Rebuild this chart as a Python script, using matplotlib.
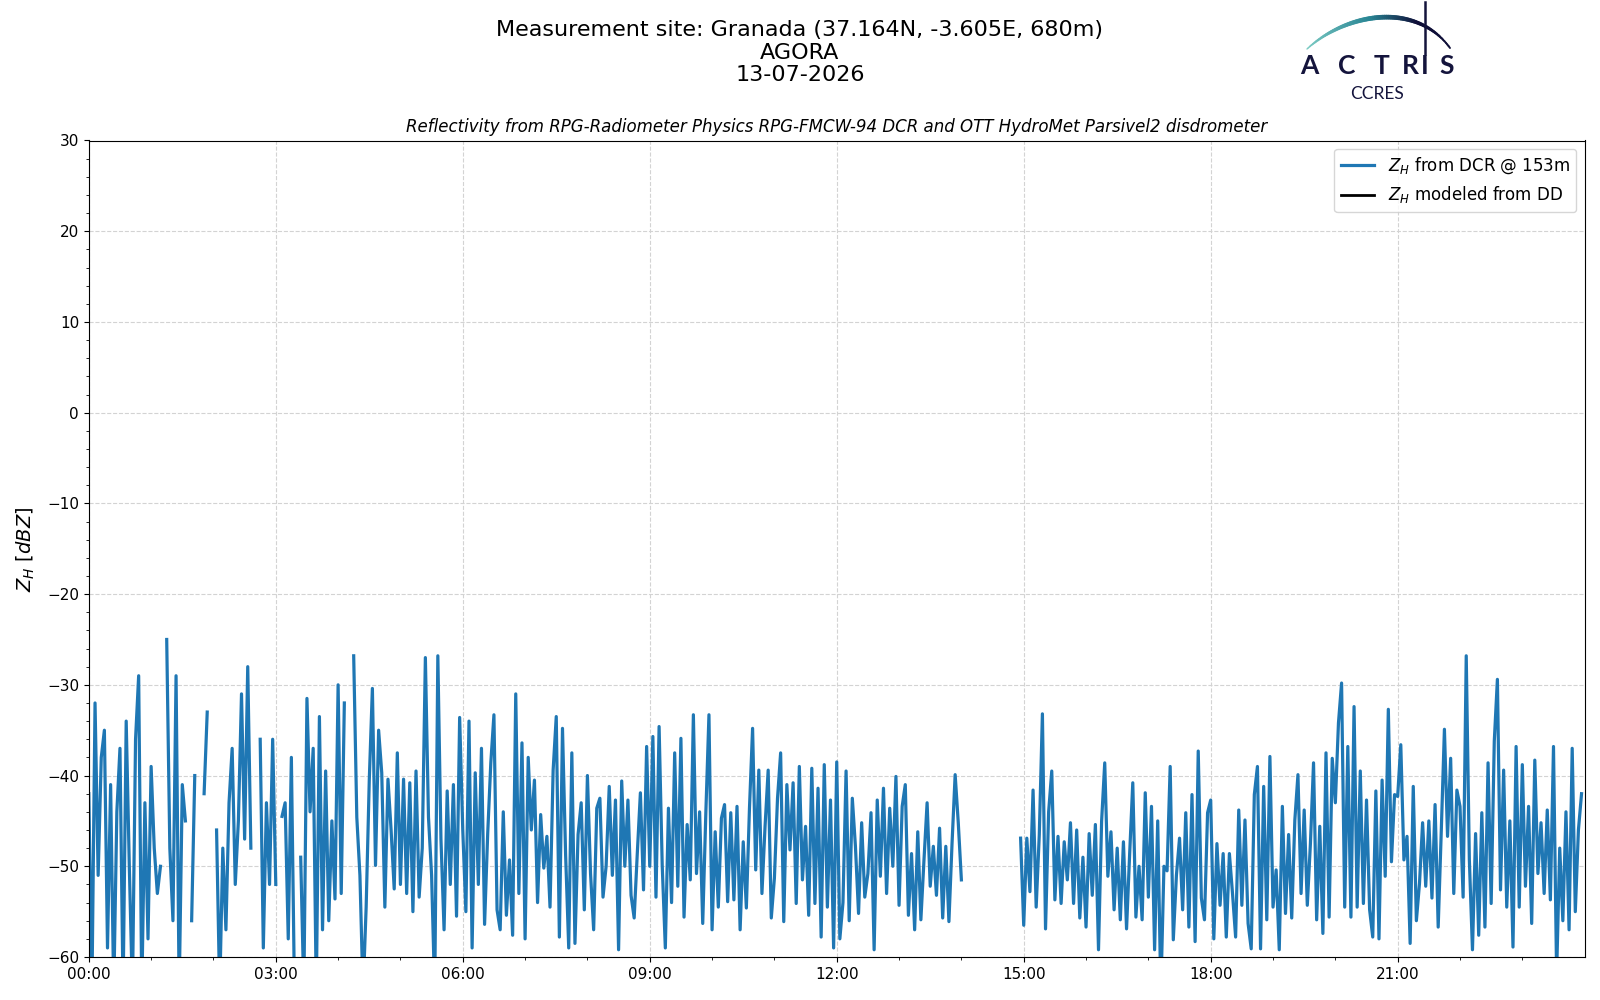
import numpy as np
import pandas as pd
import matplotlib
matplotlib.use('Agg')
import matplotlib.pyplot as plt
import matplotlib.dates as mdates
from matplotlib.ticker import MultipleLocator
from matplotlib.collections import LineCollection
from matplotlib.lines import Line2D

nan = np.nan

# Z_H from DCR @ 153m, one list per hour, 3 min steps (dBZ)
zh_00 = [-42, -64, -32, -51, -38, -35, -59, -41, -64, -44, -37, -64, -34, -50, -64, -36, -29, -64, -43, -58]
zh_01 = [-39, -48, -53, -50, nan, -25, -48, -56, -29, -64, -41, -45, nan, -56, -40, nan, nan, -42, -33, nan]
zh_02 = [nan, -46, -64, -48, -57, -43, -37, -52, -45, -31, -47, -28, -48, nan, nan, -36, -59, -43, -52, -36]
zh_03 = [-52, nan, -44.5, -43, -58, -38, -64, nan, -49, -64, -31.5, -44, -37, -64, -33.5, -57, -39.5, -56, -45, -53.6]
zh_04 = [-30, -53, -32, nan, nan, -26.8, -44.6, -51, -64, -54.5, -40.5, -30.4, -49.9, -35, -39.7, -54.5, -40.4, -46, -52.5, -37.5]
zh_05 = [-52, -40.4, -53, -40.8, -55, -39.5, -53.4, -48, -27, -44.6, -51, -64, -26.8, -47, -57, -41.7, -52, -41, -55.5, -33.6]
zh_06 = [-46, -55, -34, -59, -39.7, -52, -37, -56.4, -46.4, -38.6, -33.3, -54.8, -57, -44, -55.4, -49.3, -57.6, -31, -53, -36.4]
zh_07 = [-58, -38, -46, -40.5, -54, -44.3, -50.2, -46.7, -54.5, -39.4, -33.5, -57.8, -34.8, -48.7, -59, -37.5, -58.5, -46.5, -43, -54.8]
zh_08 = [-40, -50.8, -57, -43.6, -42.5, -53.4, -50, -41.2, -51, -42.7, -59.2, -40.6, -50, -42.7, -53.2, -55.7, -48.6, -41.9, -52.6, -36.8]
zh_09 = [-50, -35.7, -53.4, -34.6, -49.9, -59, -43.6, -54, -37.5, -52.2, -35.9, -55.6, -45.4, -51.5, -33.3, -50.8, -44, -56.3, -44.1, -33.3]
zh_10 = [-57, -46.2, -54.5, -44.7, -43.2, -53.9, -44.1, -53.7, -43.4, -57, -47.3, -54.6, -43.6, -34.8, -50.4, -39.4, -53, -45.6, -39.4, -55.7]
zh_11 = [-51.3, -42.5, -37.5, -56.1, -41, -48.2, -40.8, -54.1, -39, -51.5, -45.6, -55.4, -39.2, -54.1, -41.4, -57.8, -38.8, -54.5, -42.7, -59]
zh_12 = [-38.5, -58, -54, -39.5, -56, -42.5, -47.8, -55.2, -45.2, -53.4, -50.8, -44.1, -59.2, -42.7, -51.1, -41.4, -53, -43.6, -50, -40.1]
zh_13 = [-54.3, -43.4, -41, -55.4, -48.6, -57, -46.2, -55.9, -49.3, -43, -52.2, -47.8, -53.2, -45.8, -55.7, -47.8, -56.1, -47.5, -39.9, -45.2]
zh_14 = [-51.5, nan, nan, nan, nan, nan, nan, nan, nan, nan, nan, nan, nan, nan, nan, nan, nan, nan, nan, -46.9]
zh_15 = [-56.5, -46.9, -52.8, -41.6, -54.5, -46.5, -33.2, -56.9, -44, -39.5, -53.7, -46.7, -54.1, -47.3, -51.5, -45.2, -54.1, -46, -55.7, -49]
zh_16 = [-56.7, -46.4, -53.2, -45.4, -59.2, -45, -38.6, -51.1, -46.2, -54.8, -48, -55.9, -47.3, -56.9, -48.6, -40.8, -55.6, -50, -55.9, -41.9]
zh_17 = [-53.4, -43.4, -59.2, -45, -64, -50, -50.5, -39, -58.1, -51, -46.9, -54.8, -44.1, -56.7, -42.1, -58.3, -37.3, -53.5, -55.9, -44.1]
zh_18 = [-42.7, -58, -47.5, -54.3, -48.6, -57.8, -48.6, -53, -57.8, -43.8, -54.3, -44.9, -56.3, -59.1, -42.1, -39, -59.1, -41.2, -55.9, -37.9]
zh_19 = [-54.5, -50.4, -59.2, -43.4, -55.2, -46.5, -55.7, -44.9, -39.9, -53, -43.8, -54.3, -47.5, -38.6, -55.9, -45.6, -57.4, -37.5, -55.6, -38.1]
zh_20 = [-43, -34.2, -29.8, -54.5, -36.8, -55.6, -32.4, -54.5, -39.5, -54.1, -42.7, -54.8, -57.8, -41.7, -58, -40.5, -51.1, -32.7, -49.5, -42.1]
zh_21 = [-42.3, -36.6, -49.3, -46.7, -58.5, -41.2, -56, -51.9, -45.2, -52.2, -45, -53.5, -43.2, -56.7, -46, -34.9, -46.7, -38.1, -53, -41.6]
zh_22 = [-43.4, -53.4, -26.8, -49.3, -59.2, -46.4, -57.6, -44.1, -56.7, -38.6, -54.1, -36.2, -29.4, -52.6, -39.4, -54.5, -45, -58.9, -36.8, -54.5]
zh_23 = [-38.8, -52.2, -43.4, -56.3, -38.3, -50.8, -45.2, -53, -43.8, -53.7, -36.8, -62, -48, -56, -44, -57, -37, -55, -46, -42]

zh_dcr = np.concatenate([zh_00, zh_01, zh_02, zh_03, zh_04, zh_05, zh_06, zh_07,
                         zh_08, zh_09, zh_10, zh_11, zh_12, zh_13, zh_14, zh_15,
                         zh_16, zh_17, zh_18, zh_19, zh_20, zh_21, zh_22, zh_23])
times = pd.date_range('2026-07-13 00:00', periods=len(zh_dcr), freq='3min')

W, H = 1600, 1000


def px(x, y):
  # pixel position (from top left) -> figure fraction
  return x / W, 1 - y / H


fig = plt.figure(figsize=(16, 10), dpi=100)
ax = fig.add_axes([0.0555, 0.043, 0.9349, 0.8165])

ax.plot(times, zh_dcr, color='#1f77b4', lw=2.3, label=r'$Z_H$ from DCR @ 153m')
ax.plot([], [], color='k', lw=2, label=r'$Z_H$ modeled from DD')

ax.set_ylim(-60, 30)
ax.set_xlim(pd.Timestamp('2026-07-13 00:00'), pd.Timestamp('2026-07-13 23:59:59'))
ax.xaxis.set_major_locator(mdates.HourLocator(byhour=range(0, 24, 3)))
ax.xaxis.set_minor_locator(mdates.HourLocator())
ax.xaxis.set_major_formatter(mdates.DateFormatter('%H:%M'))
ax.yaxis.set_major_locator(MultipleLocator(10))
ax.yaxis.set_minor_locator(MultipleLocator(2))
ax.tick_params(labelsize=11)
ax.grid(True, which='major', ls='--', color='lightgrey', lw=0.8)
ax.set_ylabel(r'$Z_H\ [dBZ]$', fontsize=14, labelpad=7)
ax.set_title('Reflectivity from RPG-Radiometer Physics RPG-FMCW-94 DCR and OTT HydroMet Parsivel2 disdrometer',
             style='italic', fontsize=12)
ax.legend(loc='upper right', fontsize=12)

fig.suptitle('Measurement site: Granada (37.164N, -3.605E, 680m)\nAGORA\n13-07-2026',
             fontsize=16, y=0.980, va='top', linespacing=1.16)

# ACTRIS / CCRES logo
navy = '#14143c'
P = np.array([[1307, 49], [1345, 14], [1415, 0], [1450, 48]], dtype=float)
t = np.linspace(0, 1, 80)[:, None]
curve = ((1 - t) ** 3 * P[0] + 3 * t * (1 - t) ** 2 * P[1]
         + 3 * t ** 2 * (1 - t) * P[2] + t ** 3 * P[3])
pts = np.array([px(x, y) for x, y in curve])
segs = np.stack([pts[:-1], pts[1:]], axis=1)
c0 = np.array([0.49, 0.80, 0.77])
c1 = np.array([0.16, 0.52, 0.58])
c2 = np.array([0.06, 0.06, 0.22])
cols = []
widths = []
for s in np.linspace(0, 1, len(segs)):
  if s < 0.45:
    cols.append(c0 + (c1 - c0) * s / 0.45)
  else:
    cols.append(c1 + (c2 - c1) * min(1, (s - 0.45) / 0.3))
  widths.append(1.0 + 2.4 * np.sin(np.pi * min(s, 0.95)))
lc = LineCollection(segs, colors=cols, linewidths=widths, transform=fig.transFigure, capstyle='round')
fig.add_artist(lc)

vx, vy0 = px(1425, 2)
_, vy1 = px(1425, 54)
fig.add_artist(Line2D([vx, vx], [vy0, vy1], color=navy, lw=1.8, transform=fig.transFigure))

for letter, xc in zip('ACTRIS', [1309, 1347, 1382, 1410, 1425, 1447]):
  fig.text(*px(xc, 66), letter, ha='center', va='center', fontsize=19,
           family='Lato', weight='bold', color=navy)
fig.text(*px(1377, 94), 'CCRES', ha='center', va='center', fontsize=12.5,
         family='Lato', color=navy)

fig.savefig('out.png', dpi=100)
